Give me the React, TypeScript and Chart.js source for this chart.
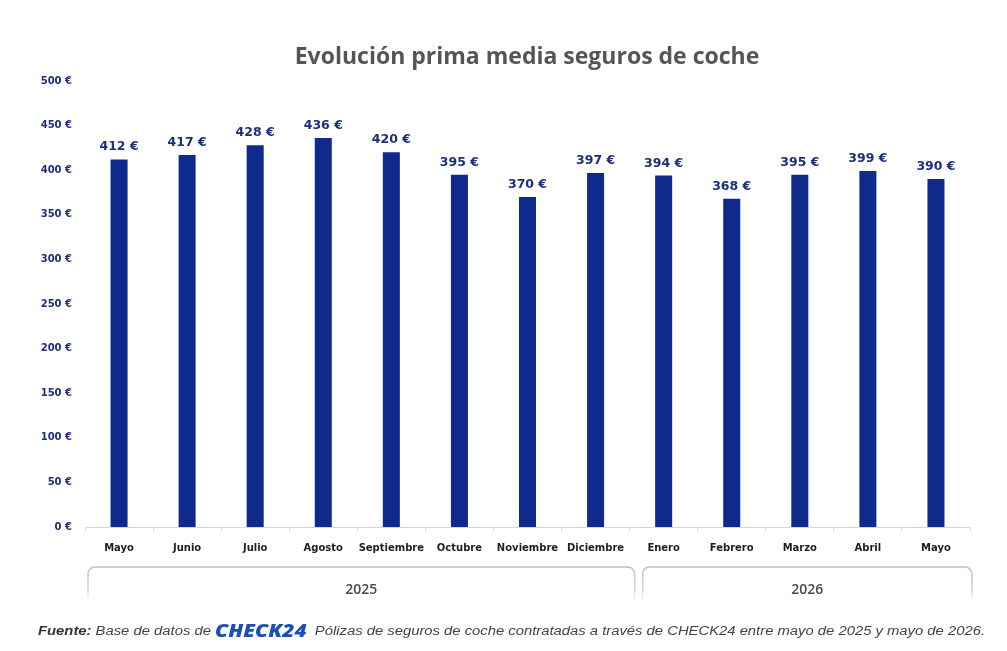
import React, { useEffect, useRef } from "react";
import { Chart, registerables } from "chart.js";

Chart.register(...registerables);

const months = [
  "Mayo", "Junio", "Julio", "Agosto", "Septiembre", "Octubre", "Noviembre",
  "Diciembre", "Enero", "Febrero", "Marzo", "Abril", "Mayo",
];
const premiums = [412, 417, 428, 436, 420, 395, 370, 397, 394, 368, 395, 399, 390];
const yearGroups = [
  { label: "2025", from: 0, to: 7 },
  { label: "2026", from: 8, to: 12 },
];
const yTicks = [0, 50, 100, 150, 200, 250, 300, 350, 400, 450, 500];

const TITLE = "Evolución prima media seguros de coche";
const NAVY = "#0d2a8c";
const LABEL_NAVY = "#1c2f78";
const LABEL_FONT = "'DejaVu Sans', sans-serif";

const euro = (v: number) => `${v} €`;

const decorations = {
  id: "decorations",
  afterDraw(chart: any) {
    const { ctx, scales } = chart;
    const x = scales.x;
    ctx.save();

    // title
    ctx.fillStyle = "#555555";
    ctx.font = "bold 23px 'Open Sans', sans-serif";
    ctx.textAlign = "center";
    ctx.textBaseline = "middle";
    ctx.fillText(TITLE, 527, 57);

    // value labels
    const meta = chart.getDatasetMeta(0);
    ctx.fillStyle = LABEL_NAVY;
    ctx.font = `bold 12.5px ${LABEL_FONT}`;
    ctx.textBaseline = "bottom";
    meta.data.forEach((bar: any, i: number) => {
      ctx.fillText(euro(premiums[i]), bar.x, bar.y - 6);
    });

    // year brackets
    const step = x.getPixelForValue(1) - x.getPixelForValue(0);
    const top = 567;
    const bottom = 604;
    const r = 7;
    yearGroups.forEach((g, gi) => {
      const left = x.getPixelForValue(g.from) - step / 2 + (gi === 0 ? 3 : 13);
      const right = x.getPixelForValue(g.to) + step / 2 + (gi === 0 ? 5 : 2);
      const grad = ctx.createLinearGradient(0, top, 0, bottom);
      grad.addColorStop(0, "rgba(190,190,190,1)");
      grad.addColorStop(0.6, "rgba(205,205,205,0.9)");
      grad.addColorStop(1, "rgba(225,225,225,0)");
      ctx.strokeStyle = grad;
      ctx.lineWidth = 1.5;
      ctx.beginPath();
      ctx.moveTo(left, bottom);
      ctx.lineTo(left, top + r);
      ctx.arcTo(left, top, left + r, top, r);
      ctx.lineTo(right - r, top);
      ctx.arcTo(right, top, right, top + r, r);
      ctx.lineTo(right, bottom);
      ctx.stroke();

      ctx.fillStyle = "#4a4a4a";
      ctx.font = "600 14px 'Open Sans', sans-serif";
      ctx.textAlign = "center";
      ctx.textBaseline = "middle";
      ctx.fillText(g.label, (left + right) / 2, 590);
    });

    // source line
    const parts = [
      { t: "Fuente:", f: "italic bold 12px 'Liberation Sans', sans-serif", c: "#333333" },
      { t: " Base de datos de ", f: "italic 12px 'Liberation Sans', sans-serif", c: "#444444" },
      { t: "CHECK24", f: "italic 900 17px 'Open Sans', sans-serif", c: "#1a4fb8" },
      { t: "  Pólizas de seguros de coche contratadas a través de CHECK24 entre mayo de 2025 y mayo de 2026.", f: "italic 12px 'Liberation Sans', sans-serif", c: "#444444" },
    ];
    let total = 0;
    parts.forEach((p) => {
      ctx.font = p.f;
      total += ctx.measureText(p.t).width;
    });
    const startX = 38;
    const endX = 985;
    const sx = (endX - startX) / total;
    ctx.translate(startX, 632);
    ctx.scale(sx, 1);
    ctx.textAlign = "left";
    ctx.textBaseline = "middle";
    let cx = 0;
    parts.forEach((p) => {
      ctx.font = p.f;
      ctx.fillStyle = p.c;
      ctx.fillText(p.t, cx, 0);
      cx += ctx.measureText(p.t).width;
    });

    ctx.restore();
  },
};

export default function App() {
  const canvasRef = useRef<HTMLCanvasElement | null>(null);

  useEffect(() => {
    if (!canvasRef.current) return;
    const chart = new Chart(canvasRef.current, {
      type: "bar",
      data: {
        labels: months,
        datasets: [
          {
            data: premiums,
            backgroundColor: NAVY,
            barPercentage: 0.25,
            categoryPercentage: 1,
          },
        ],
      },
      options: {
        responsive: false,
        animation: false,
        layout: { padding: { top: 81, left: 0, right: 37, bottom: 94 } },
        plugins: {
          legend: { display: false },
          tooltip: { enabled: false },
          title: { display: false },
        },
        scales: {
          x: {
            offset: true,
            grid: {
              offset: true,
              drawOnChartArea: false,
              color: "#d6d6d6",
              tickLength: 4,
            },
            border: { color: "#d6d6d6", width: 1 },
            ticks: {
              color: "#1e1e1e",
              font: { family: LABEL_FONT, size: 10, weight: "bold" },
              padding: 11,
              maxRotation: 0,
              autoSkip: false,
            },
            afterFit: (s: any) => {
              s.height = 30;
            },
          },
          y: {
            min: 0,
            max: 500,
            afterBuildTicks: (s: any) => {
              s.ticks = yTicks.map((v) => ({ value: v }));
            },
            grid: { display: false },
            border: { display: false },
            ticks: {
              color: LABEL_NAVY,
              font: { family: LABEL_FONT, size: 10, weight: "bold" },
              padding: 5,
              callback: (v: any) => euro(Number(v)),
            },
            afterFit: (s: any) => {
              s.width = 85;
            },
          },
        },
      },
      plugins: [decorations],
    });
    return () => chart.destroy();
  }, []);

  return (
    <div style={{ position: "fixed", left: 0, top: 0, width: 1007, height: 651, background: "#ffffff" }}>
      <canvas ref={canvasRef} width={1007} height={651} style={{ display: "block" }} />
    </div>
  );
}
